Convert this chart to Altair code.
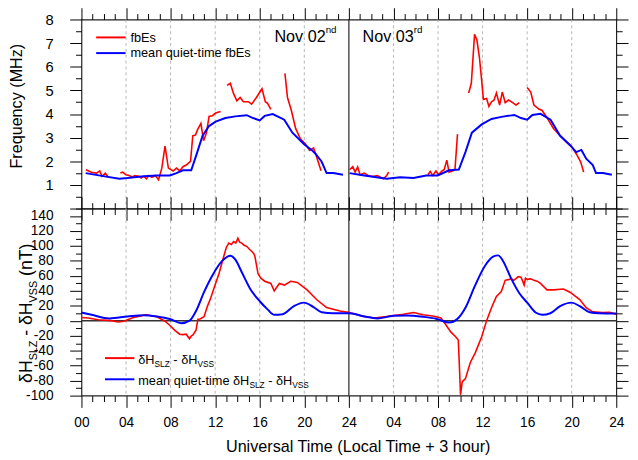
import altair as alt
import pandas as pd

FONT = "Liberation Sans"
RED = "#ff0000"
BLUE = "#0000ff"

# ---------------- data (hour, value) ----------------
# top panel: observed fbEs (MHz), separate traces (gaps between them)
fbes_a = [(0.4, 1.64), (0.9, 1.54), (1.35, 1.50), (1.64, 1.59), (1.85, 1.36), (2.14, 1.50), (2.37, 1.36)]
fbes_b = [(3.49, 1.50), (3.7, 1.54), (3.99, 1.43), (4.28, 1.40), (4.57, 1.34), (4.78, 1.40), (5.16, 1.37),
          (5.36, 1.29), (5.6, 1.36), (5.83, 1.26), (6.04, 1.40), (6.33, 1.32), (6.62, 1.40), (6.92, 1.22),
          (7.21, 1.71), (7.5, 2.64), (7.8, 1.71), (8.23, 1.59), (8.52, 1.71), (8.82, 1.59), (9.11, 1.77),
          (9.4, 1.84), (9.79, 2.00), (9.99, 3.08), (10.23, 3.11), (10.43, 3.35), (10.72, 3.60), (10.96, 2.87),
          (11.22, 3.21), (11.45, 3.90), (11.75, 3.93), (12.04, 4.04), (12.48, 4.11)]
fbes_c = [(13.07, 5.21), (13.36, 5.30), (13.65, 4.86), (13.95, 4.56), (14.24, 4.70), (14.53, 4.52),
          (14.97, 4.52), (15.27, 4.42), (15.7, 4.70), (16.2, 5.07), (16.5, 4.52), (16.7, 4.45), (17.0, 4.20)]
fbes_d = [(18.26, 5.72), (18.49, 4.70), (18.84, 4.15), (19.22, 3.39), (19.66, 2.94), (20.1, 2.73),
          (20.48, 2.46), (20.83, 2.56), (21.1, 2.19), (21.5, 1.60)]
fbes_e = [(24.06, 1.64), (24.35, 1.77), (24.56, 1.54), (24.79, 1.76), (25.0, 1.43), (25.38, 1.50),
          (25.73, 1.40), (26.1, 1.36), (26.55, 1.40), (27.1, 1.26), (27.4, 1.40), (27.57, 1.54)]
fbes_f = [(31.09, 1.43), (31.3, 1.57), (31.53, 1.40), (31.82, 1.59), (32.05, 1.43), (32.35, 1.59),
          (32.55, 1.64), (32.79, 2.05), (32.99, 1.54), (33.29, 1.59), (33.52, 1.64), (33.75, 3.15)]
fbes_g = [(34.75, 4.89), (34.99, 5.30), (35.28, 7.37), (35.49, 7.13), (35.72, 6.38), (35.92, 5.41),
          (36.07, 4.62), (36.36, 4.66), (36.57, 4.32), (36.8, 4.52), (37.03, 4.59), (37.24, 4.89),
          (37.53, 4.38), (37.77, 4.93), (38.03, 4.48), (38.33, 4.59), (38.7, 4.48), (39.0, 4.38), (39.3, 4.48)]
fbes_h = [(40.0, 5.12), (40.32, 4.93), (40.61, 4.38), (41.05, 4.21), (41.34, 4.15), (41.8, 3.83),
          (42.36, 3.39), (42.96, 3.08), (43.55, 2.80), (44.08, 2.56), (44.4, 2.32), (44.8, 1.98), (45.07, 1.54)]

# top panel: mean quiet-time fbEs (MHz)
quiet_fbes_day1 = [(0.38, 1.50), (2.08, 1.36), (3.4, 1.26), (4.13, 1.29), (5.6, 1.37), (6.77, 1.40),
                   (7.94, 1.40), (8.52, 1.50), (9.1, 1.62), (9.85, 1.62), (10.3, 2.25), (10.87, 3.08),
                   (11.45, 3.49), (12.04, 3.68), (12.92, 3.83), (13.8, 3.90), (14.83, 3.95), (15.4, 3.83),
                   (16.0, 3.73), (16.44, 3.92), (17.17, 4.00), (18.2, 3.76), (18.93, 3.21), (19.96, 2.73),
                   (20.7, 2.46), (21.0, 2.32), (21.56, 1.98), (22.0, 1.50), (22.6, 1.50), (23.47, 1.43)]
quiet_fbes_day2 = [(24.06, 1.50), (25.38, 1.40), (27.4, 1.26), (28.6, 1.32), (29.8, 1.29), (30.94, 1.40),
                   (31.97, 1.40), (32.99, 1.62), (33.87, 1.65), (34.46, 2.39), (35.04, 3.21), (35.92, 3.56),
                   (36.8, 3.79), (37.68, 3.88), (38.85, 3.96), (39.44, 3.83), (40.0, 3.76), (40.47, 3.96),
                   (41.2, 4.01), (42.1, 3.76), (42.96, 3.08), (43.84, 2.69), (44.4, 2.39), (44.87, 2.48),
                   (45.3, 2.11), (45.89, 1.84), (46.18, 1.50), (46.8, 1.50), (47.6, 1.43)]

# bottom panel: dH_SLZ - dH_VSS (nT)
dh_obs = [(0, 4.5), (0.6, 3.7), (1.5, 1.5), (2.67, 0.2), (3.3, -1.5), (3.8, -0.6), (4.66, 4.5), (5.8, 8.0),
          (6.77, 5.4), (7.5, -0.6), (7.94, -6.3), (8.38, -12.7), (8.82, -17.9), (9.1, -18.5), (9.4, -17.9),
          (9.7, -24.0), (9.85, -20.5), (10.0, -19.0), (10.28, -12.7), (10.45, 2.0), (10.64, 2.4), (11.0, 5.4),
          (11.31, 19.6), (11.6, 30.5), (11.99, 47.7), (12.34, 62.8), (12.78, 86.6), (13.0, 98.0), (13.22, 103.8),
          (13.45, 102.0), (13.66, 106.0), (13.85, 104.0), (14.04, 110.3), (14.2, 105.0), (14.39, 103.8),
          (14.6, 101.0), (14.83, 99.5), (15.05, 96.0), (15.27, 93.0), (15.45, 90.0), (15.56, 86.6),
          (15.85, 62.8), (16.1, 57.0), (16.44, 52.9), (17.0, 49.9), (17.3, 40.0), (17.76, 49.9), (18.2, 47.7),
          (18.78, 52.9), (19.37, 51.2), (20.25, 41.3), (21.1, 28.4), (22.0, 17.6), (23.2, 13.2), (24.06, 11.0),
          (25.08, 6.7), (26.26, 3.7), (27.4, 5.8), (28.9, 8.8), (29.8, 11.0), (30.65, 8.0), (31.53, 6.3),
          (32.26, 3.7), (32.55, -1.9), (33.14, -14.8), (33.58, -21.3), (33.82, -25.6), (33.93, -64.4),
          (34.02, -98.9), (34.17, -81.6), (34.46, -77.3), (34.9, -55.7), (35.34, -42.8), (35.92, -21.3),
          (36.36, 0.2), (36.8, 17.5), (37.24, 32.6), (37.68, 39.0), (38.03, 54.1), (38.3, 55.0), (38.57, 56.3),
          (38.8, 54.0), (39.0, 56.3), (39.2, 59.0), (39.44, 58.4), (39.6, 53.0), (39.73, 47.7), (39.85, 57.0),
          (40.0, 55.4), (40.3, 56.0), (40.61, 54.1), (40.9, 53.0), (41.2, 49.9), (41.78, 41.3), (42.37, 41.3),
          (43.25, 42.5), (43.84, 38.2), (44.72, 28.4), (45.3, 17.6), (45.89, 12.0), (46.76, 11.0), (47.4, 11.5),
          (48.0, 8.8)]
dh_quiet = [(0, 11.0), (0.91, 8.0), (2.52, 3.2), (4.13, 5.8), (5.6, 7.5), (6.77, 5.8), (7.94, 2.4), (8.97, -3.2),
            (9.7, 0.2), (10.28, 13.1), (11.02, 39.0), (11.75, 60.6), (12.63, 80.0), (13.36, 87.0), (13.8, 82.0),
            (14.39, 64.9), (15.12, 43.3), (16.0, 26.1), (16.7, 15.3), (17.3, 8.0), (18.05, 8.8), (19.07, 19.6),
            (19.96, 24.3), (20.83, 18.3), (21.56, 11.4), (22.6, 10.1), (24.06, 10.1), (25.38, 5.8), (26.55, 3.2),
            (28.0, 6.7), (29.19, 7.1), (30.65, 5.4), (31.82, 2.8), (33.0, -2.4), (33.73, 2.4), (34.46, 17.5),
            (35.34, 47.7), (36.22, 73.6), (36.95, 85.7), (37.4, 87.4), (37.83, 80.0), (38.57, 56.3), (39.3, 36.8),
            (40.03, 23.8), (40.76, 11.0), (41.35, 8.0), (42.08, 10.1), (42.96, 19.6), (43.99, 24.3), (44.72, 19.6),
            (45.6, 11.4), (46.47, 10.1), (48.0, 9.7)]

grid_hours = [4, 8, 12, 16, 20, 28, 32, 36, 40, 44]
day_boundary = [24]
x_ticks = list(range(0, 49))
freq_ticks = [i * 0.5 for i in range(17)]
dh_ticks = list(range(-100, 151, 10))

# ---------------- helpers ----------------
def frame(segments, yname):
    rows = []
    for sid, seg in enumerate(segments):
        for h, v in seg:
            rows.append({"h": h, yname: v, "seg": sid})
    return pd.DataFrame(rows)

top_red = frame([fbes_a, fbes_b, fbes_c, fbes_d, fbes_e, fbes_f, fbes_g, fbes_h], "f")
top_blue = frame([quiet_fbes_day1, quiet_fbes_day2], "f")
bot_red = frame([dh_obs], "v")
bot_blue = frame([dh_quiet], "v")

WIDTH = 546
H_TOP = 193
H_BOT = 191

XS = alt.Scale(domain=[0, 48], nice=False, zero=False)
YT = alt.Scale(domain=[0, 8], nice=False, zero=False)
YB = alt.Scale(domain=[-100, 150], nice=False, zero=False)


def tick_cond(test, major, minor):
    return {"condition": {"test": test, "value": major}, "value": minor}


XLABEL = ("datum.value % 4 !== 0 ? '' : (datum.value === 0 ? '00' : (datum.value % 24 === 0 ? '24' : "
          "((datum.value % 24) < 10 ? '0' + (datum.value % 24) : '' + (datum.value % 24))))")


def xaxis(orient, labels=False, title=None):
    kw = dict(orient=orient, values=x_ticks, tickSize=tick_cond("datum.value % 4 === 0", 12, 6),
              domain=False, grid=False, tickColor="black", tickWidth=1, labelFlush=False, labelOverlap=False)
    if labels:
        kw.update(labelExpr=XLABEL, labelFontSize=14, labelPadding=9, labelColor="black", labelFont=FONT)
    else:
        kw.update(labels=False)
    if title:
        kw.update(title=title, titleFont=FONT, titleFontSize=16.5, titleFontWeight="normal",
                  titleColor="black", titlePadding=9, titleX=282)
    else:
        kw.update(title=None)
    return alt.Axis(**kw)


def yaxis(orient, values, test, label_expr=None, size=14, title=None, title_y=None):
    kw = dict(orient=orient, values=values, tickSize=tick_cond(test, 12, 6), domain=False, grid=False,
              tickColor="black", tickWidth=1, labelOverlap=False)
    if label_expr:
        kw.update(labelExpr=label_expr, labelFontSize=size, labelPadding=17, labelColor="black", labelFont=FONT)
    else:
        kw.update(labels=False)
    if title:
        kw.update(title=title, titleFont=FONT, titleFontSize=16.5, titleFontWeight="normal",
                  titleColor="black", titlePadding=21, titleY=title_y)
    else:
        kw.update(title=None)
    return alt.Axis(**kw)


ONE = pd.DataFrame({"k": [0]})

WID = {' ': .278, '-': .333, '(': .333, ')': .333, '+': .584, 'a': .556, 'b': .556, 'c': .5, 'd': .556,
       'e': .556, 'f': .278, 'h': .556, 'i': .222, 'l': .222, 'm': .833, 'n': .556, 'o': .556, 'q': .556,
       'r': .333, 's': .5, 't': .278, 'u': .556, 'v': .5, 'y': .5, 'z': .5, 'E': .667, 'H': .722, 'L': .556,
       'M': .833, 'N': .722, 'S': .667, 'T': .611, 'V': .667, 'Z': .611, 'δ': .556}


def tw(s, size):
    return sum(WID.get(c, 0.556) for c in s) * size


def txt(t, x, y, size, angle=None):
    kw = dict(text=t, align="left", baseline="alphabetic", font=FONT, fontSize=size, color="black")
    if angle:
        kw["angle"] = angle
    return alt.Chart(ONE).mark_text(**kw).encode(x=alt.value(x), y=alt.value(y))


def rich(parts, x0, y0, angle=None):
    layers = []
    pos = 0.0
    for t, size, shift in parts:
        lead = len(t) - len(t.lstrip())
        off = pos + tw(t[:lead], size)
        if angle == 270:
            x, y = x0 + shift, y0 - off
        else:
            x, y = x0 + off, y0 + shift
        if t.strip():
            layers.append(txt(t.strip(), x, y, size, angle))
        pos += tw(t, size)
    return layers


def key_line(x1, x2, y, color, w):
    return alt.Chart(ONE).mark_rule(color=color, strokeWidth=w).encode(
        x=alt.value(x1), x2=alt.value(x2), y=alt.value(y))


def grid_layers():
    g = alt.Chart(pd.DataFrame({"h": grid_hours})).mark_rule(
        color="#b4b4b4", strokeDash=[3, 3], strokeWidth=1).encode(x=alt.X("h:Q", scale=XS, axis=None))
    d = alt.Chart(pd.DataFrame({"h": day_boundary})).mark_rule(
        color="#222222", strokeWidth=1.2).encode(x=alt.X("h:Q", scale=XS, axis=None))
    return [g, d]


# ---------------- top panel ----------------
top_red_line = alt.Chart(top_red).mark_line(color=RED, strokeWidth=1.6).encode(
    x=alt.X("h:Q", scale=XS, axis=xaxis("bottom")),
    y=alt.Y("f:Q", scale=YT, axis=yaxis("left", freq_ticks, "datum.value % 1 === 0",
                                         "datum.value % 1 === 0 && datum.value > 0 ? '' + datum.value : ''",
                                         size=15, title="Frequency (MHz)", title_y=88)),
    detail="seg:N")
top_blue_line = alt.Chart(top_blue).mark_line(color=BLUE, strokeWidth=2).encode(
    x=alt.X("h:Q", scale=XS, axis=xaxis("top")),
    y=alt.Y("f:Q", scale=YT, axis=yaxis("right", freq_ticks, "datum.value % 1 === 0")),
    detail="seg:N")

top_deco = [key_line(15, 45, 18.3, RED, 2), txt("fbEs", 50, 22.8, 13),
            key_line(15, 45, 34.3, BLUE, 2), txt("mean quiet-time fbEs", 50, 38.8, 13)]
top_deco += rich([("Nov 02", 16.5, 0), ("nd", 10, -9.7)], 197, 23)
top_deco += rich([("Nov 03", 16.5, 0), ("rd", 10, -9.7)], 287, 23)

top = alt.layer(*grid_layers(), top_red_line, top_blue_line, *top_deco).resolve_axis(
    x="independent", y="independent").properties(width=WIDTH, height=H_TOP)

# ---------------- bottom panel ----------------
zero_line = alt.Chart(pd.DataFrame({"v": [0]})).mark_rule(color="#333333", strokeWidth=1.5).encode(
    y=alt.Y("v:Q", scale=YB, axis=None))
bot_red_line = alt.Chart(bot_red).mark_line(color=RED, strokeWidth=1.6).encode(
    x=alt.X("h:Q", scale=XS, axis=xaxis("bottom", labels=True, title="Universal Time (Local Time + 3 hour)")),
    y=alt.Y("v:Q", scale=YB, axis=yaxis("left", dh_ticks, "datum.value % 20 === 0",
                                         "datum.value % 20 === 0 && datum.value < 150 ? '' + datum.value : ''",
                                         size=14)),
    detail="seg:N")
bot_blue_line = alt.Chart(bot_blue).mark_line(color=BLUE, strokeWidth=2, interpolate="monotone").encode(
    x=alt.X("h:Q", scale=XS, axis=xaxis("top")),
    y=alt.Y("v:Q", scale=YB, axis=yaxis("right", dh_ticks, "datum.value % 20 === 0")),
    detail="seg:N")

bot_deco = [key_line(24, 54, 152.7, RED, 2), key_line(24, 54, 174.3, BLUE, 2)]
bot_deco += rich([("δH", 13, 0), ("SLZ", 8.5, 3), (" - δH", 13, 0), ("VSS", 8.5, 3)], 58, 158.5)
bot_deco += rich([("mean quiet-time δH", 13, 0), ("SLZ", 8.5, 3), (" - δH", 13, 0), ("VSS", 8.5, 3)], 58, 180.3)
bot_deco += rich([("δH", 18, 0), ("SLZ", 11, 5), (" - δH", 18, 0), ("VSS", 11, 5), (" (nT)", 18, 0)],
                 -50, 178, angle=270)

bottom = alt.layer(*grid_layers(), zero_line, bot_red_line, bot_blue_line, *bot_deco).resolve_axis(
    x="independent", y="independent").properties(width=WIDTH, height=H_BOT)

chart = alt.vconcat(top, bottom, spacing=0, bounds="flush").properties(
    padding={"left": 0, "top": -7, "right": 0, "bottom": 0}
).configure(font=FONT, background="white").configure_view(stroke="#222222", strokeWidth=1.2)

chart.save("out.html", embed_options={"renderer": "svg", "actions": False})
